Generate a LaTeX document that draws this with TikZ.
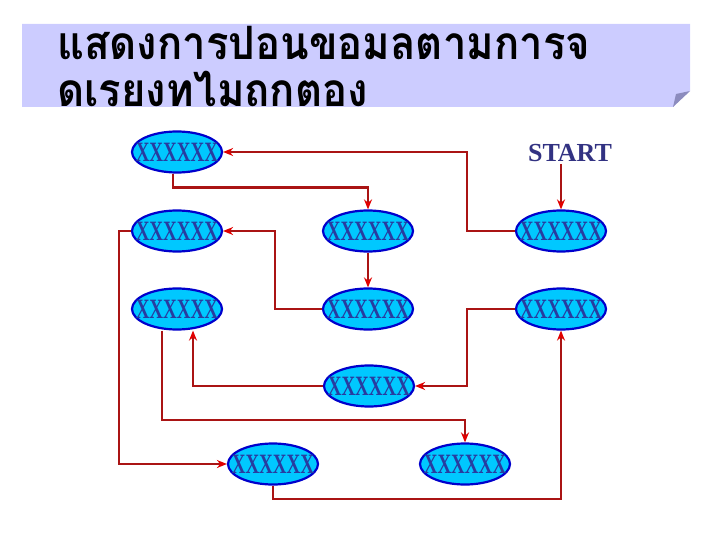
\documentclass[tikz,border=0pt]{standalone}
\usepackage{fontspec}
\setmainfont{Liberation Serif}
\newfontfamily\thaifont[Script=Thai]{Loma}
\usepackage{tikz}
\usetikzlibrary{arrows.meta, positioning, calc, shapes.geometric}
\usepackage{xcolor}

\definecolor{boxfill}{RGB}{204,204,255}
\definecolor{foldgray}{RGB}{140,140,190}
\definecolor{ovalfill}{RGB}{0,200,255}
\definecolor{ovalline}{RGB}{0,0,204}
\definecolor{ovaltext}{RGB}{40,60,160}
\definecolor{linkred}{RGB}{170,20,20}
\definecolor{tipred}{RGB}{225,0,0}
\definecolor{startblue}{RGB}{50,50,130}

\newcommand{\statetext}[1]{\makebox[0pt]{\scalebox{0.68}[1]{#1}}}
\newcommand{\titletext}[1]{\scalebox{0.91}[1]{#1}}

\tikzset{
  state/.style={ellipse, draw=ovalline, line width=2.2pt, fill=ovalfill,
    minimum width=90pt, minimum height=41pt, inner sep=0pt,
    text=ovaltext, font=\bfseries\fontsize{28}{28}\selectfont},
  flow/.style={line width=2.2pt, draw=linkred,
    -{Stealth[length=10pt,width=8pt,color=tipred]}},
  heading/.style={anchor=base west, inner sep=0pt,
    font=\thaifont\bfseries\fontsize{46}{46}\selectfont},
}

\begin{document}
\begin{tikzpicture}[x=1pt,y=-1pt]
  \useasboundingbox (0,0) rectangle (720,540);
  % Titel
  \fill[boxfill] (22,24) -- (690,24) -- (690,91) -- (673,107) -- (22,107) -- cycle;
  \fill[foldgray] (673,107) -- (676,94) -- (690,91) -- cycle;
  \node[heading] (title1) at (57,60) {\titletext{แสดงการปอนขอมลตามการจ}};
  \node[heading] (title2) at (57,107) {\titletext{ดเรยงทไมถกตอง}};
  % Zustaende
  \node[state] (A) at (177,152) {\statetext{XXXXXX}};
  \node[state] (B) at (177,231) {\statetext{XXXXXX}};
  \node[state] (C) at (368,231) {\statetext{XXXXXX}};
  \node[state] (D) at (561,231) {\statetext{XXXXXX}};
  \node[state] (E) at (177,309) {\statetext{XXXXXX}};
  \node[state] (F) at (368,309) {\statetext{XXXXXX}};
  \node[state] (G) at (561,309) {\statetext{XXXXXX}};
  \node[state] (H) at (369,386) {\statetext{XXXXXX}};
  \node[state] (I) at (273,464) {\statetext{XXXXXX}};
  \node[state] (J) at (465,464) {\statetext{XXXXXX}};
  \node[text=startblue, font=\bfseries\fontsize{26}{26}\selectfont, inner sep=2pt]
    (start) at (570,153) {START};
  % Verbindungen
  \draw[flow] (start.south -| D) -- (D.north);
  \draw[flow] (D.west) -- ++(-48,0) |- (A.east);
  \draw[flow] ([xshift=-4pt]A.south) -- ++(0,14) -| (C.north);
  \draw[flow] (C.south) -- (F.north);
  \draw[flow] (F.west) -- ++(-47,0) |- (B.east);
  \draw[flow] (B.west) -- ++(-12,0) |- (I.west);
  \draw[flow] (G.west) -- ++(-48,0) |- (H.east);
  \draw[flow] (H.west) -| ([xshift=16pt]E.south);
  \draw[flow] ([xshift=-15pt]E.south) -- ++(0,89) -| (J.north);
  \draw[flow] (I.south) -- ++(0,13) -| (G.south);
\end{tikzpicture}
\end{document}
